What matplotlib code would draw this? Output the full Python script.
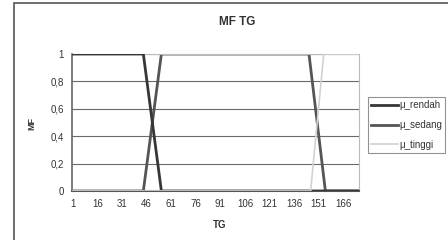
import matplotlib
matplotlib.use('Agg')
import matplotlib.pyplot as plt
from matplotlib.patches import Rectangle

plt.rcParams['font.family'] = ['Liberation Sans', 'DejaVu Sans']

# breakpoints of each membership line (TG, MF)
tg_rendah = [1, 44, 55, 175]
mf_rendah = [1, 1, 0, 0]
tg_sedang = [1, 44, 55, 145, 155, 175]
mf_sedang = [0, 0, 1, 1, 0, 0]
tg_tinggi = [1, 146, 154, 175]
mf_tinggi = [0, 0, 1, 1]

x_ticks = [1, 16, 31, 46, 61, 76, 91, 106, 121, 136, 151, 166]
y_ticks = [0, 0.2, 0.4, 0.6, 0.8, 1]
y_labels = ['0', '0,2', '0,4', '0,6', '0,8', '1']

W, H = 448, 240
fig = plt.figure(figsize=(W / 100, H / 100), dpi=100)
fig.patch.set_facecolor('white')

# chart border (cropped on right and bottom)
fig.patches.append(Rectangle((14 / W, -0.1), 1.2, (H - 3) / H + 0.1,
                             transform=fig.transFigure, fill=False,
                             edgecolor='#555555', linewidth=1.2))

ax = fig.add_axes([72 / W, 1 - 191 / H, (359 - 72) / W, (191 - 54) / H])
ax.plot(tg_rendah, mf_rendah, color='#363636', lw=2.0, label='\u03bc_rendah', zorder=3)
ax.plot(tg_sedang, mf_sedang, color='#555555', lw=2.0, label='\u03bc_sedang', zorder=2)
ax.plot(tg_tinggi, mf_tinggi, color='#d2d2d2', lw=1.2, label='\u03bc_tinggi', zorder=4)

ax.set_xlim(0.5, 175.5)
ax.set_ylim(0, 1)
ax.set_xticks(x_ticks)
ax.set_xticklabels([str(v) for v in x_ticks], fontsize=7, color='#333333')
ax.set_yticks(y_ticks)
ax.set_yticklabels(y_labels, fontsize=7, color='#333333')
ax.tick_params(length=0, pad=6)
ax.grid(axis='y', color='#6a6a6a', lw=0.8)
ax.set_axisbelow(True)
for s in ['top', 'right']:
    ax.spines[s].set_color('#bbbbbb')
ax.spines['left'].set_color('#666666')
ax.spines['left'].set_linewidth(1.2)
ax.spines['bottom'].set_color('#555555')
ax.spines['bottom'].set_linewidth(1.5)

fig.text(237 / W, 1 - 22 / H, 'MF TG', ha='center', va='center',
         fontsize=8.5, fontweight='bold', color='#333333')
fig.text(220 / W, 1 - 225 / H, 'TG', ha='center', va='center',
         fontsize=7, fontweight='bold', color='#333333')
fig.text(32 / W, 1 - 124 / H, 'MF', ha='center', va='center', rotation=90,
         fontsize=6.5, fontweight='bold', color='#333333')

leg = fig.legend(loc='upper left', bbox_to_anchor=(368 / W, 1 - 97 / H),
                 fontsize=7, frameon=True, fancybox=False, handlelength=2.7,
                 handletextpad=0.15, borderpad=0.35, labelspacing=1.0,
                 borderaxespad=0)
leg.get_frame().set_edgecolor('#777777')
leg.get_frame().set_linewidth(0.8)
for t in leg.get_texts():
    t.set_color('#333333')

fig.savefig('out.png', dpi=100)
